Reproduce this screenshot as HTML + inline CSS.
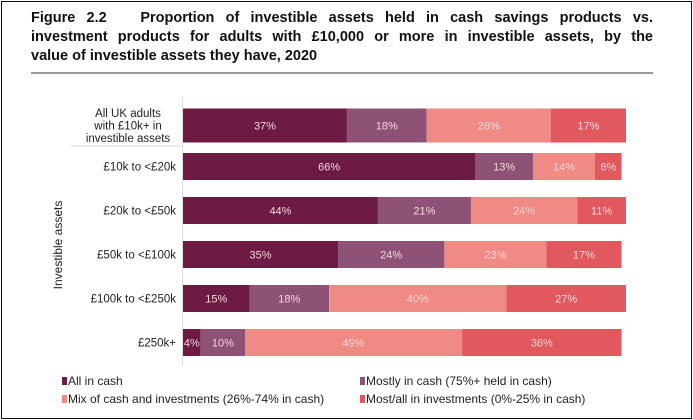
<!DOCTYPE html>
<html><head><meta charset="utf-8"><style>
body{margin:0;background:#fff;}
#wrap{position:relative;width:693px;height:420px;overflow:hidden;font-family:"Liberation Sans",sans-serif;}
#frame{position:absolute;left:1px;top:1px;width:689px;height:416px;border:1px solid #111;}
#title{position:absolute;left:31px;top:9px;width:622px;font-weight:bold;font-size:14.5px;line-height:19px;color:#111;}
#title .j{text-align:justify;text-align-last:justify;white-space:nowrap;}
#title .j{white-space:normal;}
#rule{position:absolute;left:31px;top:72px;width:622px;height:2px;background:#9a9a9a;}
</style></head><body>
<div id="wrap">
<div id="frame"></div>
<div id="title"><div class="j">Figure 2.2&nbsp;&nbsp; Proportion of investible assets held in cash savings products vs.</div><div class="j">investment products for adults with £10,000 or more in investible assets, by the</div><div>value of investible assets they have, 2020</div></div>
<div id="rule"></div>
<svg id="chart" width="693" height="420" style="position:absolute;left:0;top:0"></svg>
</div>
<script>
const categories=[["All UK adults","with £10k+ in","investible assets"],["£10k to <£20k"],["£20k to <£50k"],["£50k to <£100k"],["£100k to <£250k"],["£250k+"]];
const allCash=[37,66,44,35,15,4];
const mostlyCash=[18,13,21,24,18,10];
const mixed=[28,14,24,23,40,49];
const mostlyInvest=[17,6,11,17,27,36];
const seriesNames=["All in cash","Mostly in cash (75%+ held in cash)","Mix of cash and investments (26%-74% in cash)","Most/all in investments (0%-25% in cash)"];
const colors=["#6d1a45","#8e5276","#f08a84","#e1585f"];
const series=[allCash,mostlyCash,mixed,mostlyInvest];
const NS="http://www.w3.org/2000/svg";
const svg=document.getElementById('chart');
const x0=183,x1=626;
function xs(v){return x0+(x1-x0)*v/100;}
function yc(i){return i===0?125.5:166.5+(i-1)*44;}
function bh(i){return i===0?34:27;}
function mk(t,a){const e=document.createElementNS(NS,t);for(const k in a)e.setAttribute(k,a[k]);svg.appendChild(e);return e;}
let ax=mk('line',{x1:x0-0.5,y1:97,x2:x0-0.5,y2:366,stroke:'#ddd','stroke-width':1});


[146].forEach(y=>{const l=mk('line',{x1:70,y1:y,x2:x0,y2:y,stroke:'#ddd'});

});
let yt=mk('text',{x:0,y:0,transform:'translate(62,245) rotate(-90)','text-anchor':'middle','font-size':'12','fill':'#222','font-family':'Liberation Sans, sans-serif'});
yt.textContent='Investible assets';


categories.forEach((cat,i)=>{
 const c=yc(i);
 const lh=12.5;
 const t=mk('text',{x:i===0?128:176,y:c-(cat.length-1)*lh/2+4,'text-anchor':i===0?'middle':'end','font-size':'11.5','fill':'#222','font-family':'Liberation Sans, sans-serif'});
 
 
 cat.forEach((s,j)=>{const sp=document.createElementNS(NS,'tspan');sp.setAttribute('x',i===0?128:176);sp.setAttribute('dy',j===0?0:lh);sp.textContent=s;t.appendChild(sp);});
 let acc=0;
 series.forEach((arr,k)=>{
  const v=arr[i];
  const r=mk('rect',{x:xs(acc),y:c-bh(i)/2,width:xs(acc+v)-xs(acc),height:bh(i),fill:colors[k]});
  
  
  const tx=mk('text',{x:(xs(acc)+xs(acc+v))/2,y:c+4,'text-anchor':'middle','font-size':'11','fill':'#f6d6da','font-family':'Liberation Sans, sans-serif'});
  tx.textContent=v+'%';
  
  
  acc+=v;
 });
});
const lp=[[62,385],[360,385],[62,403],[360,403]];
seriesNames.forEach((n,k)=>{
 const r=mk('rect',{x:lp[k][0],y:lp[k][1]-8,width:5,height:8,fill:colors[k]});
 
 
 const t=mk('text',{x:lp[k][0]+6,y:lp[k][1],'font-size':'12','fill':'#222','font-family':'Liberation Sans, sans-serif'});
 t.textContent=n;
 
 
});
</script>
</body></html>
